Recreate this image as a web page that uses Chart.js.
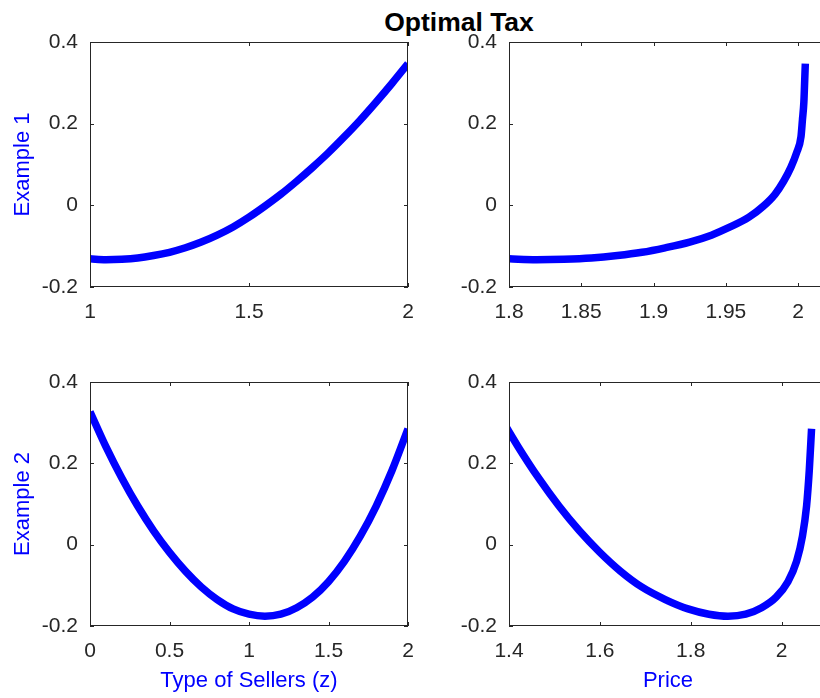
<!DOCTYPE html>
<html>
<head>
<meta charset="utf-8">
<script src="https://cdn.jsdelivr.net/npm/chart.js@4.4.0/dist/chart.umd.min.js"></script>
<style>
  body { margin: 0; width: 820px; height: 698px; overflow: hidden; background: #fff; position: relative; }
  canvas { position: absolute; }
  #title { position: absolute; left: 459px; top: 9px; transform: translateX(-50%); white-space: nowrap;
           font: bold 26.5px "Liberation Sans", Arial, sans-serif; line-height: 26px; color: #000; }
</style>
</head>
<body>
<div id="title">Optimal Tax</div>
<canvas id="c1" width="440" height="340" style="left:0;top:0"></canvas>
<canvas id="c2" width="420" height="340" style="left:410px;top:0"></canvas>
<canvas id="c3" width="440" height="358" style="left:0;top:340px"></canvas>
<canvas id="c4" width="420" height="358" style="left:410px;top:340px"></canvas>
<script>
// Example 1: type of sellers z, tax, price
const z1 = [1, 1.05, 1.1, 1.15, 1.2, 1.25, 1.3, 1.35, 1.4, 1.45, 1.5, 1.55, 1.6, 1.65, 1.7, 1.75, 1.8, 1.85, 1.9, 1.95, 2];
const tax1 = [-0.131, -0.133, -0.132, -0.129, -0.123, -0.115, -0.104, -0.090, -0.073, -0.053, -0.029,
              -0.002, 0.027, 0.059, 0.093, 0.129, 0.168, 0.209, 0.253, 0.299, 0.347];
const price1 = [1.800, 1.819, 1.838, 1.857, 1.875, 1.892, 1.908, 1.925, 1.940, 1.953, 1.966,
                1.976, 1.984, 1.990, 1.995, 1.999, 2.002, 2.003, 2.004, 2.0045, 2.005];

// Example 2
const z2 = [0, 0.1, 0.2, 0.3, 0.4, 0.5, 0.6, 0.7, 0.8, 0.9, 1, 1.1, 1.2, 1.3, 1.4, 1.5, 1.6, 1.7, 1.8, 1.9, 2];
const tax2 = [0.327, 0.241, 0.164, 0.095, 0.034, -0.019, -0.065, -0.104, -0.135, -0.158, -0.171,
              -0.176, -0.171, -0.155, -0.129, -0.091, -0.041, 0.021, 0.095, 0.183, 0.285];
const price2 = [1.374, 1.420, 1.465, 1.510, 1.555, 1.600, 1.645, 1.692, 1.744, 1.794, 1.840,
                1.882, 1.921, 1.956, 1.988, 2.014, 2.033, 2.046, 2.055, 2.061, 2.066];

// ticks
const yTicks = [-0.2, 0, 0.2, 0.4];
const yTickLabels = ['-0.2', '0', '0.2', '0.4'];
const zTicks1 = [1, 1.5, 2];
const zTickLabels1 = ['1', '1.5', '2'];
const pTicks1 = [1.8, 1.85, 1.9, 1.95, 2];
const pTickLabels1 = ['1.8', '1.85', '1.9', '1.95', '2'];
const zTicks2 = [0, 0.5, 1, 1.5, 2];
const zTickLabels2 = ['0', '0.5', '1', '1.5', '2'];
const pTicks2 = [1.4, 1.6, 1.8, 2];
const pTickLabels2 = ['1.4', '1.6', '1.8', '2'];

Chart.defaults.font.family = '"Liberation Sans", Arial, sans-serif';

const AXIS = '#262626';
const BLUE = '#0000ff';

// matlab style box with inward ticks on every side
const boxPlugin = {
  id: 'box',
  afterDatasetsDraw(chart) {
    const {ctx, chartArea: a, scales} = chart;
    const tl = 4;
    ctx.save();
    ctx.strokeStyle = AXIS;
    ctx.lineWidth = 1;
    ctx.strokeRect(a.left + 0.5, a.top + 0.5, a.right - a.left - 1, a.bottom - a.top - 1);
    ctx.beginPath();
    scales.x.ticks.forEach(t => {
      const px = Math.round(scales.x.getPixelForValue(t.value)) + 0.5;
      ctx.moveTo(px, a.bottom); ctx.lineTo(px, a.bottom - tl);
      ctx.moveTo(px, a.top); ctx.lineTo(px, a.top + tl);
    });
    scales.y.ticks.forEach(t => {
      const py = Math.round(scales.y.getPixelForValue(t.value)) + 0.5;
      ctx.moveTo(a.left, py); ctx.lineTo(a.left + tl, py);
      ctx.moveTo(a.right, py); ctx.lineTo(a.right - tl, py);
    });
    ctx.stroke();
    ctx.restore();
  }
};

function makeChart(id, xs, ys, xRange, xt, xl, xTitle, yTitle, yW, xH, padRight) {
  return new Chart(document.getElementById(id), {
    type: 'line',
    data: {
      datasets: [{
        data: xs.map((x, i) => ({x: x, y: ys[i]})),
        borderColor: BLUE,
        borderWidth: 7.5,
        pointRadius: 0,
        cubicInterpolationMode: 'monotone',
        fill: false,
        clip: 0,
        borderCapStyle: 'butt',
        borderJoinStyle: 'round'
      }]
    },
    options: {
      responsive: false,
      animation: false,
      events: [],
      layout: {padding: {top: 42, right: padRight, left: 0, bottom: 0}},
      plugins: {legend: {display: false}, tooltip: {enabled: false}},
      scales: {
        x: {
          type: 'linear', min: xRange[0], max: xRange[1],
          grid: {display: false, drawTicks: false}, border: {display: false},
          ticks: {color: AXIS, font: {size: 21}, padding: 13, maxRotation: 0, autoSkip: false,
                  callback: (v, i) => xl[i]},
          afterBuildTicks: s => { s.ticks = xt.map(v => ({value: v})); },
          afterFit: s => { s.height = xH; s.paddingLeft = 0; s.paddingRight = 0; },
          title: {display: !!xTitle, text: xTitle, color: BLUE, font: {size: 22}, padding: {top: 0, bottom: 4}}
        },
        y: {
          type: 'linear', min: -0.2, max: 0.4,
          grid: {display: false, drawTicks: false}, border: {display: false},
          ticks: {color: AXIS, font: {size: 21}, padding: 12, autoSkip: false,
                  callback: (v, i) => yTickLabels[i]},
          afterBuildTicks: s => { s.ticks = yTicks.map(v => ({value: v})); },
          afterFit: s => { s.width = yW; s.paddingTop = 0; s.paddingBottom = 0; },
          title: {display: !!yTitle, text: yTitle, color: BLUE, font: {size: 22}, padding: {top: 10, bottom: 0}}
        }
      }
    },
    plugins: [boxPlugin]
  });
}

makeChart('c1', z1, tax1, [1, 2], zTicks1, zTickLabels1, '', 'Example 1', 90, 53, 32);
makeChart('c2', price1, tax1, [1.8, 2.02], pTicks1, pTickLabels1, '', '', 99, 53, 3);
makeChart('c3', z2, tax2, [0, 2], zTicks2, zTickLabels2, 'Type of Sellers (z)', 'Example 2', 90, 72, 32);
makeChart('c4', price2, tax2, [1.4, 2.1], pTicks2, pTickLabels2, 'Price', '', 99, 72, 3);
</script>
</body>
</html>
